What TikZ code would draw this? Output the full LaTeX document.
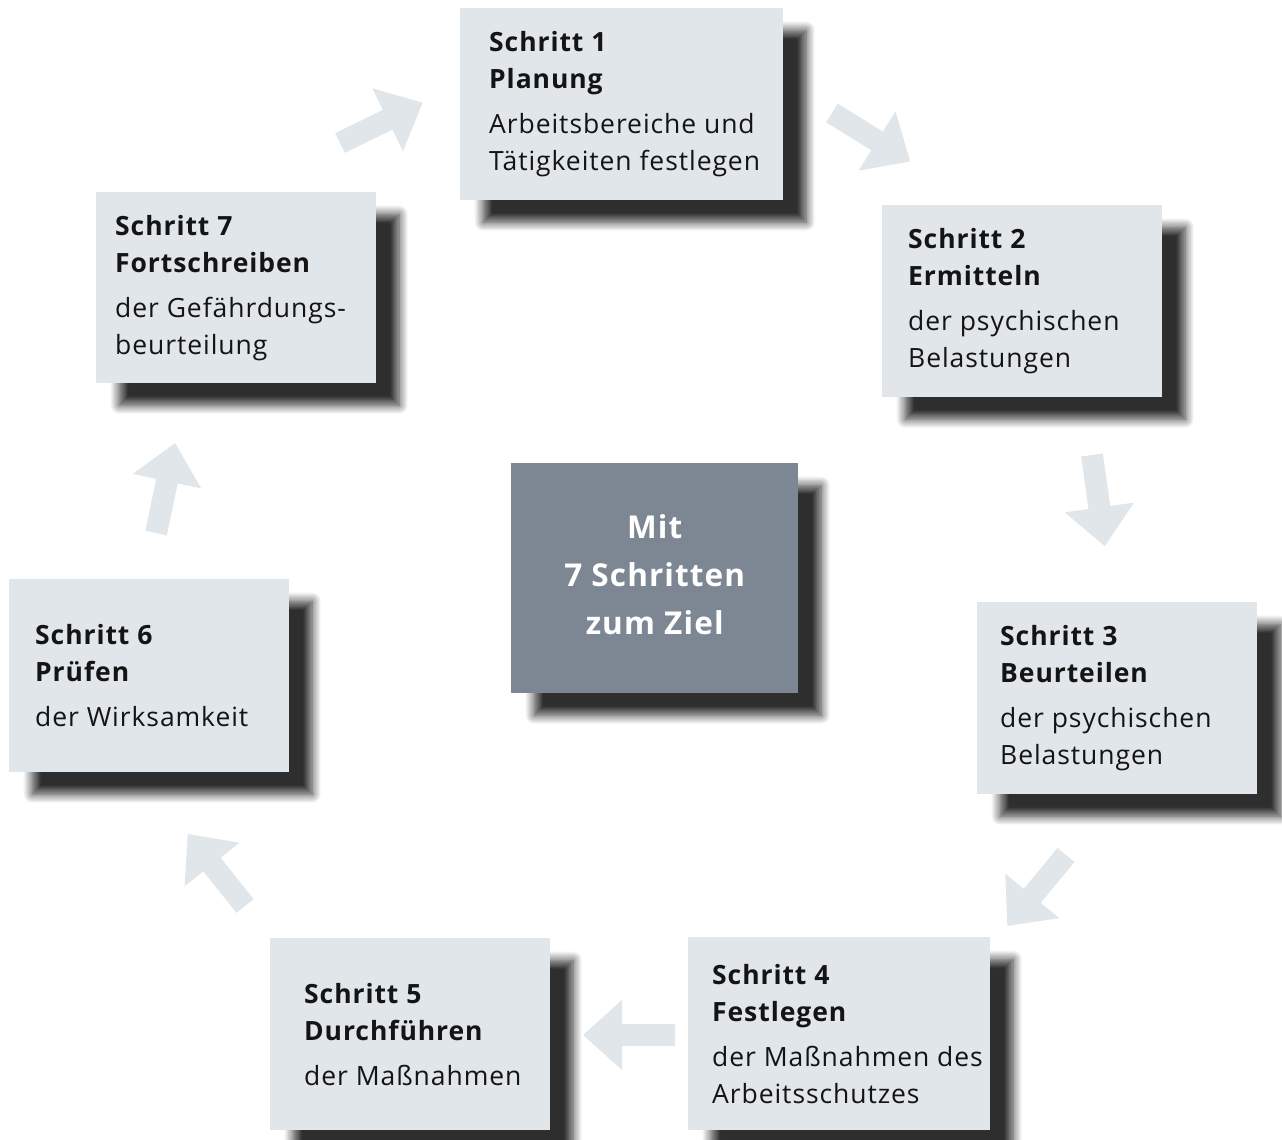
\documentclass[tikz,border=0pt]{standalone}
\usepackage{fontspec}
\setmainfont{Open Sans}[LetterSpace=3.5]
\usetikzlibrary{shadows.blur}

\definecolor{boxfill}{HTML}{E1E6EA}
\definecolor{hubfill}{HTML}{7D8693}
\definecolor{arrowfill}{HTML}{E1E6EA}

\tikzset{
  dropshadow/.style={blur shadow={shadow xshift=23pt, shadow yshift=-22pt,
      shadow blur radius=9pt, shadow blur steps=12, shadow opacity=82}},
  stepbox/.style={fill=boxfill, draw=none, inner sep=0pt, dropshadow},
  hubbox/.style={fill=hubfill, draw=none, inner sep=0pt, dropshadow},
  steptext/.style={align=left, inner sep=0pt, text=black!92,
      font=\fontsize{26.5}{37}\selectfont},
  hubtext/.style={align=center, inner sep=0pt, text=white,
      font=\bfseries\fontsize{31.5}{48}\selectfont},
  blockarrow/.pic={
    \fill[arrowfill] (0,-11) -- (53,-11) -- (53,-35) -- (92,0)
      -- (53,35) -- (53,11) -- (0,11) -- cycle;
  }
}

\begin{document}
\begin{tikzpicture}[x=1pt, y=-1pt]
\useasboundingbox (0,0) rectangle (1282,1140);

% step boxes
\node[stepbox, anchor=north west, minimum width=323pt, minimum height=192pt] (s1) at (460,8) {};
\node[stepbox, anchor=north west, minimum width=280pt, minimum height=192pt] (s2) at (882,205) {};
\node[stepbox, anchor=north west, minimum width=280pt, minimum height=192pt] (s3) at (977,602) {};
\node[stepbox, anchor=north west, minimum width=302pt, minimum height=193pt] (s4) at (688,937) {};
\node[stepbox, anchor=north west, minimum width=280pt, minimum height=192pt] (s5) at (270,938) {};
\node[stepbox, anchor=north west, minimum width=280pt, minimum height=193pt] (s6) at (9,579) {};
\node[stepbox, anchor=north west, minimum width=280pt, minimum height=191pt] (s7) at (96,192) {};

% centre box
\node[hubbox, anchor=north west, minimum width=287pt, minimum height=230pt] (hub) at (511,463) {};
\node[hubtext] (hubt) at ([yshift=4pt]hub.center) {Mit\\7 Schritten\\zum Ziel};

% step texts
\node[steptext, anchor=west] (t1) at ([xshift=29pt]s1.west)
  {\textbf{Schritt 1}\\\textbf{Planung}\\[8pt]Arbeitsbereiche und\\Tätigkeiten festlegen};
\node[steptext, anchor=west] (t2) at ([xshift=26pt]s2.west)
  {\textbf{Schritt 2}\\\textbf{Ermitteln}\\[8pt]der psychischen\\Belastungen};
\node[steptext, anchor=west] (t3) at ([xshift=23pt]s3.west)
  {\textbf{Schritt 3}\\\textbf{Beurteilen}\\[8pt]der psychischen\\Belastungen};
\node[steptext, anchor=west] (t4) at ([xshift=24pt]s4.west)
  {\textbf{Schritt 4}\\\textbf{Festlegen}\\[8pt]der Maßnahmen des\\Arbeitsschutzes};
\node[steptext, anchor=west] (t5) at ([xshift=34pt]s5.west)
  {\textbf{Schritt 5}\\\textbf{Durchführen}\\[8pt]der Maßnahmen};
\node[steptext, anchor=west] (t6) at ([xshift=26pt]s6.west)
  {\textbf{Schritt 6}\\\textbf{Prüfen}\\[8pt]der Wirksamkeit};
\node[steptext, anchor=west] (t7) at ([xshift=19pt]s7.west)
  {\textbf{Schritt 7}\\\textbf{Fortschreiben}\\[8pt]der Gefährdungs-\\beurteilung};

% block arrows between the steps
\coordinate (a1) at (340,143);
\coordinate (a2) at (832,113);
\coordinate (a3) at (1092,455);
\coordinate (a4) at (1066,855);
\coordinate (a5) at (675,1035);
\coordinate (a6) at (245,906);
\coordinate (a7) at (156,533);
\pic[rotate=26]    at (a1) {blockarrow};
\pic[rotate=-31.8] at (a2) {blockarrow};
\pic[rotate=-82]   at (a3) {blockarrow};
\pic[rotate=230.4] at (a4) {blockarrow};
\pic[rotate=180]   at (a5) {blockarrow};
\pic[rotate=128.5] at (a6) {blockarrow};
\pic[rotate=78]    at (a7) {blockarrow};
\end{tikzpicture}
\end{document}
